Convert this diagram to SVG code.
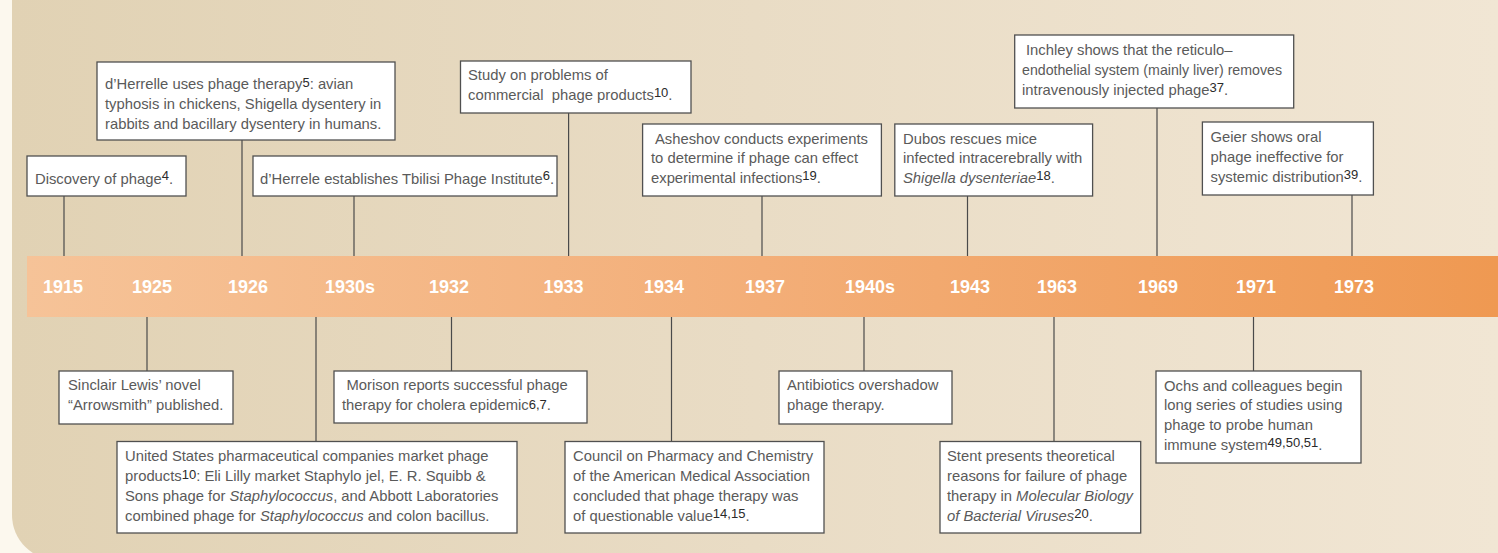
<svg xmlns="http://www.w3.org/2000/svg" width="1498" height="553" viewBox="0 0 1498 553">
<defs>
<linearGradient id="bg" x1="0" y1="0" x2="1" y2="0">
<stop offset="0" stop-color="#e1d2b4"/>
<stop offset="0.5" stop-color="#e9dcc5"/>
<stop offset="1" stop-color="#f1e6d4"/>
</linearGradient>
<linearGradient id="band" x1="0" y1="0" x2="1" y2="0">
<stop offset="0" stop-color="#f6c398"/>
<stop offset="0.5" stop-color="#f3ae78"/>
<stop offset="1" stop-color="#ef9952"/>
</linearGradient>
<style>
.box{fill:#ffffff;stroke:#505050;stroke-width:1.3}
.t{font-family:"Liberation Sans",Arial,sans-serif;font-size:14.8px;fill:#5a5a5a}
.s{font-size:13px;fill:#2a2a2a}
.i{font-style:italic}
.yr{font-family:"Liberation Sans",Arial,sans-serif;font-size:18px;font-weight:bold;fill:#ffffff;text-anchor:middle}
.ln{stroke:#4a4a4a;stroke-width:1.2;fill:none}
</style>
</defs>
<rect x="0" y="0" width="1498" height="553" fill="#fcf8ee"/>
<path d="M12,0 H1498 V560 H57 A45,45 0 0 1 12,515 Z" fill="url(#bg)"/>

<g id="timeline">
<rect x="27" y="256" width="1471" height="61" fill="url(#band)"/>
<text class="yr" x="63" y="293">1915</text>
<text class="yr" x="152" y="293">1925</text>
<text class="yr" x="248" y="293">1926</text>
<text class="yr" x="350" y="293">1930s</text>
<text class="yr" x="449" y="293">1932</text>
<text class="yr" x="563.5" y="293">1933</text>
<text class="yr" x="664" y="293">1934</text>
<text class="yr" x="765" y="293">1937</text>
<text class="yr" x="870" y="293">1940s</text>
<text class="yr" x="970" y="293">1943</text>
<text class="yr" x="1057" y="293">1963</text>
<text class="yr" x="1158" y="293">1969</text>
<text class="yr" x="1256" y="293">1971</text>
<text class="yr" x="1354" y="293">1973</text>
</g>

<g id="connectors">
<line class="ln" x1="64" y1="196" x2="64" y2="256"/>
<line class="ln" x1="242" y1="140" x2="242" y2="256"/>
<line class="ln" x1="354" y1="196" x2="354" y2="256"/>
<line class="ln" x1="568.6" y1="113" x2="568.6" y2="256"/>
<line class="ln" x1="762" y1="196" x2="762" y2="256"/>
<line class="ln" x1="967.5" y1="196" x2="967.5" y2="256"/>
<line class="ln" x1="1157" y1="108" x2="1157" y2="256"/>
<line class="ln" x1="1352" y1="195" x2="1352" y2="256"/>
<line class="ln" x1="147" y1="317" x2="147" y2="371"/>
<line class="ln" x1="316" y1="317" x2="316" y2="441.5"/>
<line class="ln" x1="451.5" y1="317" x2="451.5" y2="371"/>
<line class="ln" x1="671.5" y1="317" x2="671.5" y2="441.5"/>
<line class="ln" x1="864" y1="317" x2="864" y2="371"/>
<line class="ln" x1="1054" y1="317" x2="1054" y2="441.5"/>
<line class="ln" x1="1253.5" y1="317" x2="1253.5" y2="371"/>
</g>

<g id="n1915">
<rect class="box" x="27" y="156" width="159" height="40"/>
<text class="t" x="35" y="183.5">Discovery of phage<tspan class="s" dy="-4">4</tspan><tspan dy="4">.</tspan></text>
</g>

<g id="n1926">
<rect class="box" x="97" y="62" width="298" height="78"/>
<text class="t" x="105" y="88.5">d’Herrelle uses phage therapy<tspan class="s" dy="-2">5</tspan><tspan dy="2">: avian</tspan></text>
<text class="t" x="105" y="108.5">typhosis in chickens, Shigella dysentery in</text>
<text class="t" x="105" y="128.5">rabbits and bacillary dysentery in humans.</text>
</g>

<g id="n1930s-top">
<rect class="box" x="253" y="156" width="304" height="40"/>
<text class="t" x="260" y="183.5">d’Herrele establishes Tbilisi Phage Institute<tspan class="s" dy="-4">6</tspan><tspan dy="4">.</tspan></text>
</g>

<g id="n1933">
<rect class="box" x="460.5" y="61" width="230.5" height="52"/>
<text class="t" x="468" y="80">Study on problems of</text>
<text class="t" x="468" y="99.5">commercial&#160; phage products<tspan class="s" dy="-3">10</tspan><tspan dy="3">.</tspan></text>
</g>

<g id="n1937">
<rect class="box" x="642.6" y="124" width="238.8" height="72"/>
<text class="t" x="655" y="143.5">Asheshov conducts experiments</text>
<text class="t" x="651" y="163">to determine if phage can effect</text>
<text class="t" x="651" y="182.5">experimental infections<tspan class="s" dy="-3">19</tspan><tspan dy="3">.</tspan></text>
</g>

<g id="n1943">
<rect class="box" x="894.8" y="124" width="197.8" height="72"/>
<text class="t" x="903" y="143.5">Dubos rescues mice</text>
<text class="t" x="903" y="163">infected intracerebrally with</text>
<text class="t" x="903" y="182.5"><tspan class="i">Shigella dysenteriae</tspan><tspan class="s" dy="-3">18</tspan><tspan dy="3">.</tspan></text>
</g>

<g id="n1969">
<rect class="box" x="1014.7" y="35" width="279" height="73"/>
<text class="t" x="1026" y="55">Inchley shows that the reticulo–</text>
<text class="t" x="1022" y="75" textLength="260" lengthAdjust="spacingAndGlyphs">endothelial system (mainly liver) removes</text>
<text class="t" x="1022" y="95">intravenously injected phage<tspan class="s" dy="-3">37</tspan><tspan dy="3">.</tspan></text>
</g>

<g id="n1973">
<rect class="box" x="1202.4" y="122" width="171" height="73"/>
<text class="t" x="1210.5" y="142">Geier shows oral</text>
<text class="t" x="1210.5" y="162">phage ineffective for</text>
<text class="t" x="1210.5" y="182">systemic distribution<tspan class="s" dy="-3">39</tspan><tspan dy="3">.</tspan></text>
</g>

<g id="n1925">
<rect class="box" x="59" y="371" width="174" height="53"/>
<text class="t" x="68" y="389.5">Sinclair Lewis’ novel</text>
<text class="t" x="68" y="409.5">“Arrowsmith” published.</text>
</g>

<g id="n1932">
<rect class="box" x="334" y="371" width="253" height="52"/>
<text class="t" x="346.5" y="389.5">Morison reports successful phage</text>
<text class="t" x="342" y="409.5">therapy for cholera epidemic<tspan class="s" dy="-1">6,7</tspan><tspan dy="1">.</tspan></text>
</g>

<g id="n1930s-bottom">
<rect class="box" x="117" y="441.5" width="400" height="91.5"/>
<text class="t" x="125" y="461">United States pharmaceutical companies market phage</text>
<text class="t" x="125" y="481">products<tspan class="s" dy="-2">10</tspan><tspan dy="2">: Eli Lilly market Staphylo jel, E. R. Squibb &amp;</tspan></text>
<text class="t" x="125" y="501">Sons phage for <tspan class="i">Staphylococcus</tspan>, and Abbott Laboratories</text>
<text class="t" x="125" y="521">combined phage for <tspan class="i">Staphylococcus</tspan> and colon bacillus.</text>
</g>

<g id="n1934">
<rect class="box" x="565" y="441.5" width="259" height="91.5"/>
<text class="t" x="573" y="461">Council on Pharmacy and Chemistry</text>
<text class="t" x="573" y="481">of the American Medical Association</text>
<text class="t" x="573" y="501">concluded that phage therapy was</text>
<text class="t" x="573" y="521">of questionable value<tspan class="s" dy="-3">14,15</tspan><tspan dy="3">.</tspan></text>
</g>

<g id="n1940s">
<rect class="box" x="779" y="371" width="173" height="53"/>
<text class="t" x="787" y="389.5">Antibiotics overshadow</text>
<text class="t" x="787" y="409.5">phage therapy.</text>
</g>

<g id="n1963">
<rect class="box" x="940" y="441.5" width="200.7" height="91.5"/>
<text class="t" x="947" y="461">Stent presents theoretical</text>
<text class="t" x="947" y="481">reasons for failure of phage</text>
<text class="t" x="947" y="501">therapy in <tspan class="i">Molecular Biology</tspan></text>
<text class="t" x="947" y="521"><tspan class="i">of Bacterial Viruses</tspan><tspan class="s" dy="-3">20</tspan><tspan dy="3">.</tspan></text>
</g>

<g id="n1971">
<rect class="box" x="1156" y="371" width="205" height="92"/>
<text class="t" x="1164" y="390.5">Ochs and colleagues begin</text>
<text class="t" x="1164" y="410">long series of studies using</text>
<text class="t" x="1164" y="430">phage to probe human</text>
<text class="t" x="1164" y="449.5">immune system<tspan class="s" dy="-3">49,50,51</tspan><tspan dy="3">.</tspan></text>
</g>
</svg>
